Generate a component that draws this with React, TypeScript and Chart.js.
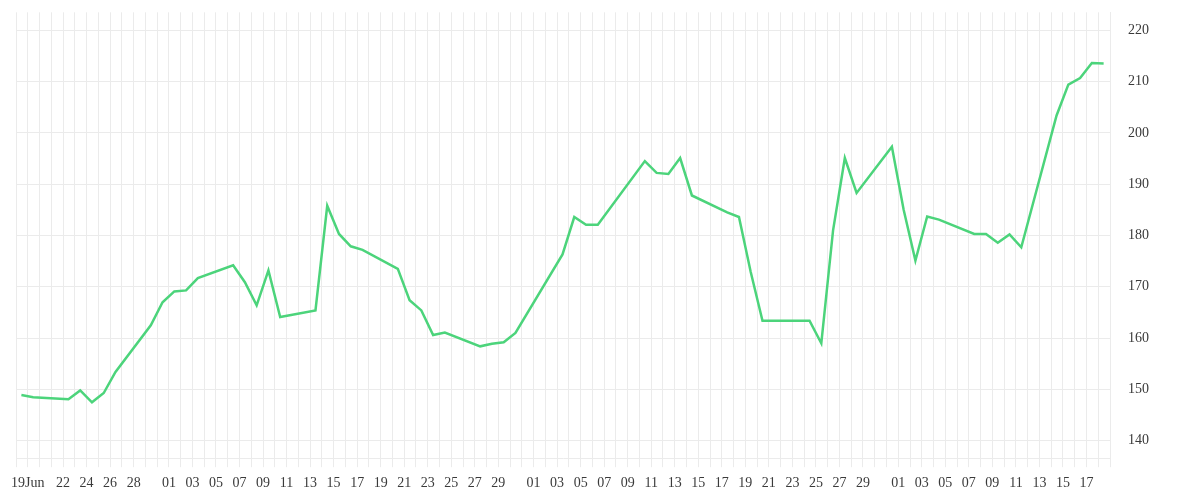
import { useEffect, useRef } from 'react';
import { Chart, registerables } from 'chart.js';

Chart.register(...registerables);

const DAY = 86400000;
const AXIS_START = '2020-06-18';
const AXIS_END = '2020-09-19';
// closes are stamped late in the morning, so each point sits a bit right of its day line
const SAMPLE_HOUR = 11;

const dates = [
  '2020-06-18', '2020-06-19', '2020-06-22', '2020-06-23', '2020-06-24', '2020-06-25', '2020-06-26',
  '2020-06-29', '2020-06-30', '2020-07-01', '2020-07-02', '2020-07-03',
  '2020-07-06', '2020-07-07', '2020-07-08', '2020-07-09', '2020-07-10',
  '2020-07-13', '2020-07-14', '2020-07-15', '2020-07-16', '2020-07-17',
  '2020-07-20', '2020-07-21', '2020-07-22', '2020-07-23', '2020-07-24',
  '2020-07-27', '2020-07-28', '2020-07-29', '2020-07-30',
  '2020-08-03', '2020-08-04', '2020-08-05', '2020-08-06',
  '2020-08-10', '2020-08-11', '2020-08-12', '2020-08-13', '2020-08-14',
  '2020-08-17', '2020-08-18', '2020-08-19', '2020-08-20', '2020-08-21',
  '2020-08-24', '2020-08-25', '2020-08-26', '2020-08-27', '2020-08-28',
  '2020-08-31', '2020-09-01', '2020-09-02', '2020-09-03', '2020-09-04',
  '2020-09-07', '2020-09-08', '2020-09-09', '2020-09-10', '2020-09-11',
  '2020-09-14', '2020-09-15', '2020-09-16', '2020-09-17', '2020-09-18',
];

const closes = [
  148.9, 148.5, 148.1, 149.8, 147.5, 149.3, 153.4,
  162.5, 167.0, 169.1, 169.3, 171.7,
  174.2, 170.9, 166.4, 173.2, 164.1,
  165.4, 185.8, 180.3, 177.9, 177.2,
  173.5, 167.4, 165.4, 160.6, 161.1,
  158.4, 158.9, 159.2, 161.0,
  176.3, 183.6, 182.1, 182.1,
  194.5, 192.2, 192.0, 195.1, 187.8,
  184.5, 183.6, 172.9, 163.4, 163.4,
  163.4, 159.0, 181.0, 195.1, 188.3,
  197.3, 185.0, 175.1, 183.7, 183.1,
  180.3, 180.3, 178.6, 180.2, 177.7,
  203.4, 209.4, 210.7, 213.6, 213.5,
];

// labelled days of each month on the x axis
const junTicks = [19, 22, 24, 26, 28];
const julTicks = [1, 3, 5, 7, 9, 11, 13, 15, 17, 19, 21, 23, 25, 27, 29];
const augTicks = [1, 3, 5, 7, 9, 11, 13, 15, 17, 19, 21, 23, 25, 27, 29];
const sepTicks = [1, 3, 5, 7, 9, 11, 13, 15, 17];

const yTicks = [140, 150, 160, 170, 180, 190, 200, 210, 220];
const Y_MIN = 136.6;
const Y_MAX = 223.5;

const GRID = '#ebebeb';
const LINE = '#4cd47b';
const TEXT = '#3a3a3a';
const FONT = "'Liberation Serif', serif";

const toDay = (iso: string) => {
  const [y, m, d] = iso.split('-').map(Number);
  return Date.UTC(y, m - 1, d) / DAY;
};

const App = () => {
  const canvasRef = useRef<HTMLCanvasElement | null>(null);
  const chartRef = useRef<Chart | null>(null);

  useEffect(() => {
    if (!canvasRef.current) return;
    if (chartRef.current) chartRef.current.destroy();

    const start = toDay(AXIS_START);
    const span = toDay(AXIS_END) - start;

    // day offset -> label text
    const tickText = new Map<number, string>();
    const months: Array<[number, string, number[]]> = [
      [6, 'Jun', junTicks],
      [7, 'Jul', julTicks],
      [8, 'Aug', augTicks],
      [9, 'Sep', sepTicks],
    ];
    months.forEach(([m, name, days]) => {
      days.forEach((d) => {
        const off = Date.UTC(2020, m - 1, d) / DAY - start;
        const dd = String(d).padStart(2, '0');
        tickText.set(off, tickText.size === 0 ? dd + name : dd);
      });
    });

    const points = dates.map((iso, i) => ({
      x: toDay(iso) - start + SAMPLE_HOUR / 24,
      y: closes[i],
    }));

    const ctx = canvasRef.current.getContext('2d');
    if (!ctx) return;

    chartRef.current = new Chart(ctx, {
      type: 'line',
      data: {
        datasets: [
          {
            data: points,
            borderColor: LINE,
            borderWidth: 2.5,
            pointRadius: 0,
            tension: 0,
            fill: false,
          },
        ],
      },
      options: {
        animation: false,
        responsive: true,
        maintainAspectRatio: false,
        layout: { padding: { left: 8, right: 43, top: 4.3, bottom: 0 } },
        plugins: {
          legend: { display: false },
          tooltip: { enabled: false },
        },
        scales: {
          x: {
            type: 'linear',
            min: 0,
            max: span,
            afterBuildTicks: (axis) => {
              axis.ticks = Array.from({ length: span + 1 }, (_, i) => ({ value: i }));
            },
            // chart.js counts the tick padding twice; keep only one
            afterFit: (axis) => {
              axis.height = 9 + 8 + 16.8;
            },
            grid: { color: GRID, lineWidth: 1, drawTicks: true, tickLength: 9 },
            border: { color: GRID },
            ticks: {
              autoSkip: false,
              maxRotation: 0,
              minRotation: 0,
              padding: 8,
              color: TEXT,
              font: { family: FONT, size: 14 },
              callback: (v) => tickText.get(Number(v)) ?? '',
            },
          },
          y: {
            type: 'linear',
            position: 'right',
            min: Y_MIN,
            max: Y_MAX,
            afterBuildTicks: (axis) => {
              axis.ticks = yTicks.map((v) => ({ value: v }));
            },
            afterFit: (axis) => {
              axis.width = 39;
              axis.paddingTop = 0;
              axis.paddingBottom = 0;
            },
            grid: { color: GRID, lineWidth: 1, drawTicks: false },
            border: { color: GRID },
            ticks: {
              padding: 18,
              color: TEXT,
              font: { family: FONT, size: 14 },
            },
          },
        },
      },
    });

    return () => {
      if (chartRef.current) {
        chartRef.current.destroy();
        chartRef.current = null;
      }
    };
  }, []);

  return (
    <div style={{ position: 'relative', width: '100%', height: 484 }}>
      <canvas ref={canvasRef} />
    </div>
  );
};

export default App;
